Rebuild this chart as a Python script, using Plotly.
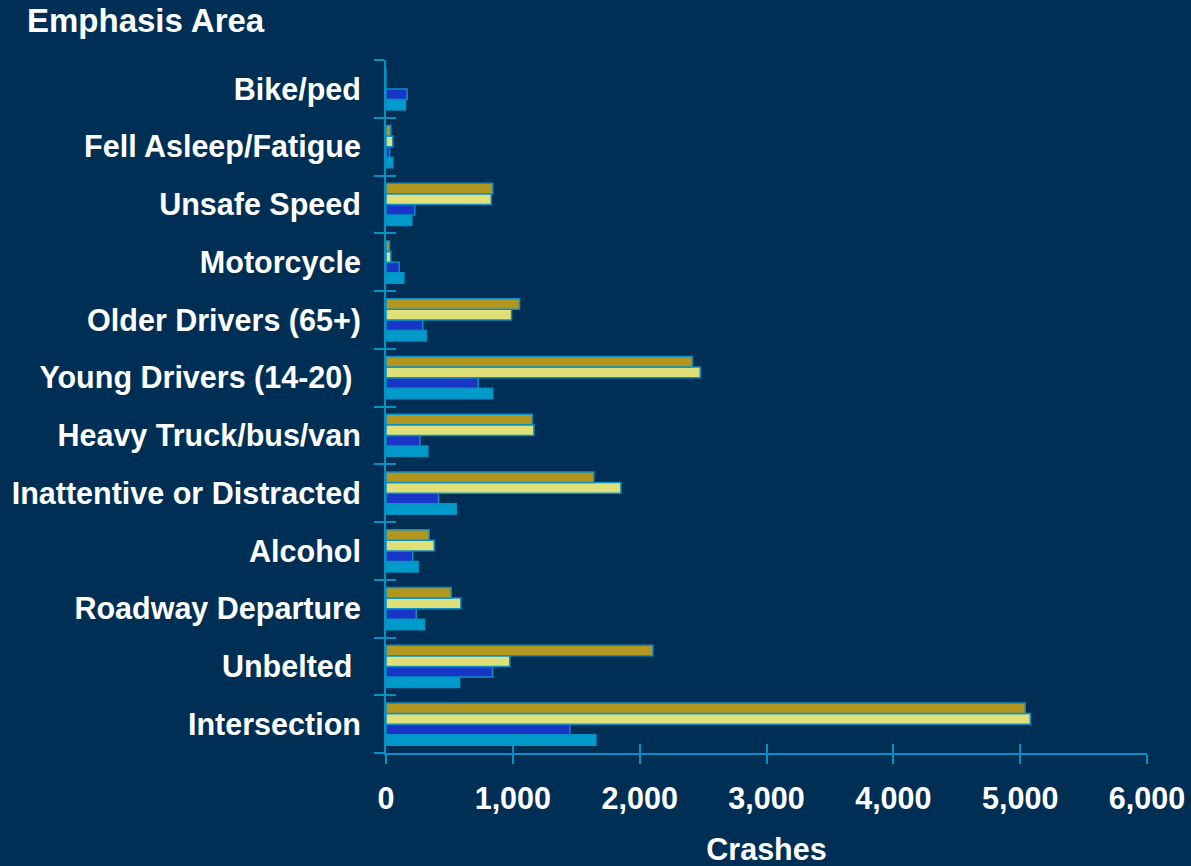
import plotly.graph_objects as go

# categories listed bottom to top (plotly draws the first category at the bottom)
areas = ["Intersection", "Unbelted\u00a0", "Roadway Departure", "Alcohol",
         "Inattentive or Distracted", "Heavy Truck/bus/van", "Young Drivers (14-20)\u00a0",
         "Older Drivers (65+)", "Motorcycle", "Unsafe Speed", "Fell Asleep/Fatigue", "Bike/ped"]

# four series per area, top bar to bottom bar in the picture
olive_vals = [5040, 2104, 514, 340, 1639, 1153, 2415, 1053, 28, 842, 38, 0]
yellow_vals = [5080, 976, 590, 380, 1852, 1166, 2478, 990, 38, 830, 54, 0]
blue_vals = [1450, 840, 238, 211, 414, 267, 727, 290, 104, 227, 28, 167]
cyan_vals = [1655, 580, 304, 254, 554, 330, 842, 319, 141, 204, 54, 154]

x_ticks = [0, 1000, 2000, 3000, 4000, 5000, 6000]

BG = "#002f56"
LINE = "#0a8fc2"
FONT = "Liberation Sans, Arial, sans-serif"

fig = go.Figure()

# grouped horizontal bars: first trace sits lowest inside each group
series = [("cyan", cyan_vals, "#009bcb"),
          ("blue", blue_vals, "#1935c8"),
          ("yellow", yellow_vals, "#dfe07a"),
          ("olive", olive_vals, "#b39620")]
for name, vals, col in series:
    fig.add_trace(go.Bar(
        y=areas, x=vals, name=name, orientation="h",
        marker=dict(color=col, line=dict(color=LINE, width=1.5)),
    ))

# empty trace so the overlay axes (inner half of the crossing ticks) get drawn
fig.add_trace(go.Scatter(x=[], y=[], xaxis="x2", yaxis="y2", showlegend=False, hoverinfo="skip"))

bold = dict(family=FONT, color="white", size=30.5, weight="bold")

fig.update_layout(
    width=1191, height=866,
    paper_bgcolor=BG, plot_bgcolor=BG,
    margin=dict(l=386, r=44, t=60, b=113),
    barmode="group", bargap=0.27, bargroupgap=0,
    showlegend=False,
    font=dict(family=FONT, color="white", size=30),
    title=dict(text="Emphasis Area", x=27 / 1191, xref="container", xanchor="left",
               y=1 - 20 / 866, yref="container", yanchor="middle",
               font=dict(family=FONT, color="white", size=33, weight="bold")),
    xaxis=dict(range=[0, 6000], tickvals=x_ticks, tickformat=",", showgrid=False,
               zeroline=False, showline=True, linecolor=LINE, linewidth=2,
               ticks="outside", ticklen=9, tickcolor=LINE, tickwidth=2,
               ticklabelstandoff=8, tickfont=bold, automargin=False,
               title=dict(text="Crashes", standoff=27, font=bold)),
    yaxis=dict(type="category", range=[-0.5, 11.5], showgrid=False, zeroline=False,
               showline=True, linecolor=LINE, linewidth=2, tickson="boundaries",
               ticks="outside", ticklen=10, tickcolor=LINE, tickwidth=2,
               ticklabelstandoff=17, tickfont=bold, automargin=False),
    xaxis2=dict(range=[0, 6000], tickvals=x_ticks, overlaying="x", anchor="y2",
                showgrid=False, zeroline=False, showticklabels=False, showline=False,
                ticks="inside", ticklen=9, tickcolor=LINE, tickwidth=2, automargin=False),
    yaxis2=dict(range=[-0.5, 11.5], tickvals=[i - 0.5 for i in range(13)], overlaying="y",
                anchor="x2", showgrid=False, zeroline=False, showticklabels=False,
                showline=False, ticks="inside", ticklen=10, tickcolor=LINE, tickwidth=2,
                automargin=False),
)

fig.write_html("out.html", config={"displayModeBar": False},
               post_script="document.body.style.margin='0';")
